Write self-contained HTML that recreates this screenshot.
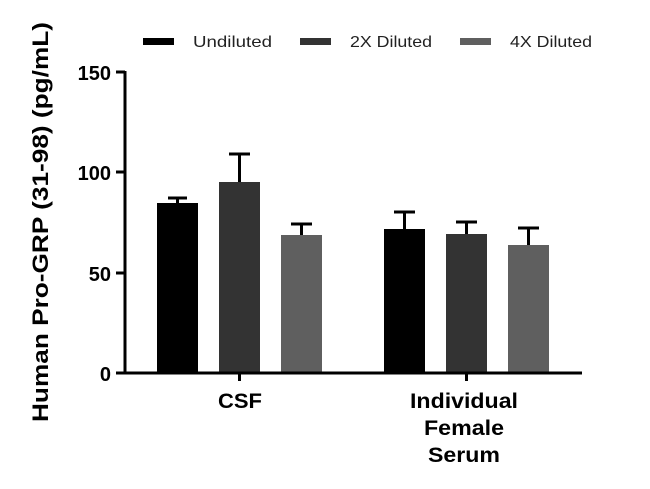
<!DOCTYPE html>
<html><head><style>body{margin:0;background:#fff}svg{display:block}</style></head><body>
<svg width="650" height="489" xmlns="http://www.w3.org/2000/svg" font-family="Liberation Sans, sans-serif">
<rect width="650" height="489" fill="#fff"/>
<!-- legend -->
<rect x="143" y="38" width="31" height="7" fill="#000"/>
<text x="193" y="47" font-size="16" fill="#222" textLength="79" lengthAdjust="spacingAndGlyphs">Undiluted</text>
<rect x="300" y="38" width="31" height="7" fill="#333"/>
<text x="350" y="47" font-size="16" fill="#222" textLength="82" lengthAdjust="spacingAndGlyphs">2X Diluted</text>
<rect x="460" y="38" width="31" height="7" fill="#5f5f5f"/>
<text x="510" y="47" font-size="16" fill="#222" textLength="82" lengthAdjust="spacingAndGlyphs">4X Diluted</text>
<!-- bars -->
<g stroke="#000" stroke-width="3" fill="none">
<line x1="177.5" y1="203" x2="177.5" y2="198"/><line x1="168" y1="198" x2="187" y2="198"/>
<line x1="239.5" y1="182" x2="239.5" y2="154"/><line x1="229" y1="154" x2="250" y2="154"/>
<line x1="301.5" y1="235" x2="301.5" y2="224"/><line x1="291" y1="224" x2="312" y2="224"/>
<line x1="404.5" y1="229" x2="404.5" y2="212"/><line x1="394" y1="212" x2="415" y2="212"/>
<line x1="466.5" y1="234" x2="466.5" y2="222"/><line x1="456" y1="222" x2="477" y2="222"/>
<line x1="528.5" y1="245" x2="528.5" y2="228"/><line x1="518" y1="228" x2="539" y2="228"/>
</g>
<rect x="157" y="203" width="41" height="170" fill="#000"/>
<rect x="219" y="182" width="41" height="191" fill="#333"/>
<rect x="281" y="235" width="41" height="138" fill="#5f5f5f"/>
<rect x="384" y="229" width="41" height="144" fill="#000"/>
<rect x="446" y="234" width="41" height="139" fill="#333"/>
<rect x="508" y="245" width="41" height="128" fill="#5f5f5f"/>
<!-- axes -->
<g stroke="#000" stroke-width="3">
<line x1="125" y1="71" x2="125" y2="374"/>
<line x1="124" y1="373" x2="582" y2="373"/>
<line x1="116" y1="72" x2="125" y2="72"/>
<line x1="116" y1="172" x2="125" y2="172"/>
<line x1="116" y1="273" x2="125" y2="273"/>
<line x1="116" y1="373" x2="125" y2="373"/>
<line x1="239.5" y1="373" x2="239.5" y2="381"/>
<line x1="466.5" y1="373" x2="466.5" y2="381"/>
</g>
<g font-size="20" font-weight="bold" text-anchor="end" fill="#000">
<text x="111" y="80">150</text>
<text x="111" y="180">100</text>
<text x="111" y="281">50</text>
<text x="111" y="381">0</text>
</g>
<g font-size="21" font-weight="bold" text-anchor="middle" fill="#000">
<text x="240" y="408" textLength="44" lengthAdjust="spacingAndGlyphs">CSF</text>
<text x="464" y="408" textLength="108" lengthAdjust="spacingAndGlyphs">Individual</text>
<text x="464" y="435" textLength="80" lengthAdjust="spacingAndGlyphs">Female</text>
<text x="464" y="462" textLength="72" lengthAdjust="spacingAndGlyphs">Serum</text>
</g>
<text transform="translate(48,222) rotate(-90)" font-size="22" font-weight="bold" text-anchor="middle" textLength="400" lengthAdjust="spacingAndGlyphs">Human Pro-GRP (31-98) (pg/mL)</text>
</svg>
</body></html>
